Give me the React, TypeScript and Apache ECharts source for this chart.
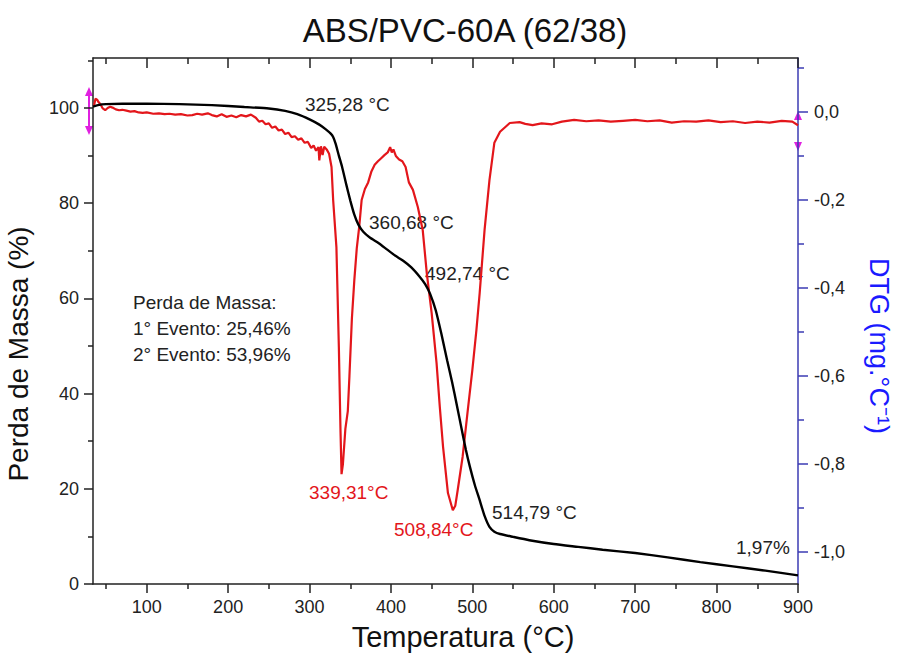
import React, { useEffect, useRef } from "react";
import * as echarts from "echarts";

// ---- data ----
const title = "ABS/PVC-60A (62/38)";
const xTicks = [100, 200, 300, 400, 500, 600, 700, 800, 900];
const xMinorTicks = [50, 150, 250, 350, 450, 550, 650, 750, 850];
const massTicks = [0, 20, 40, 60, 80, 100];
const massMinorTicks = [10, 30, 50, 70, 90, 110];
const dtgTicks = [-1.0, -0.8, -0.6, -0.4, -0.2, 0.0];
const dtgMinorTicks = [-0.9, -0.7, -0.5, -0.3, -0.1, 0.1];

// TGA mass (%) vs temperature (°C)
const tgaTemp = [34, 40, 50, 70, 100, 140, 180, 220, 250, 270, 285, 300, 312, 320, 326, 329, 332, 336, 340, 345, 350, 355, 360, 366, 374, 385, 395, 405, 415, 425, 435, 442, 448, 455, 462, 469, 475, 481, 487, 492, 497, 503, 509, 515, 521, 527, 534, 550, 570, 600, 630, 660, 700, 740, 780, 820, 860, 900];
const tgaMass = [100.3, 100.6, 100.8, 100.9, 100.9, 100.8, 100.6, 100.2, 99.9, 99.4, 98.7, 97.6, 96.5, 95.5, 94.6, 93.9, 92.5, 90.0, 87.6, 84.0, 80.6, 77.6, 75.5, 74.0, 72.8, 71.6, 70.3, 69.0, 67.9, 66.5, 64.6, 63.0, 61.0, 57.5, 52.5, 47.0, 42.5, 37.5, 32.4, 28.2, 24.6, 20.8, 17.6, 14.3, 12.0, 11.0, 10.5, 9.9, 9.2, 8.4, 7.8, 7.2, 6.5, 5.6, 4.6, 3.7, 2.8, 1.8];

// DTG (mg/°C) vs temperature (°C)
const dtgTemp = [35, 37, 39, 41, 43, 46, 49, 52, 55, 58, 62, 66, 70, 75, 80, 85, 90, 95, 100, 108, 115, 122, 128, 135, 142, 150, 156, 162, 168, 175, 180, 186, 192, 198, 204, 210, 216, 222, 228, 234, 238, 242, 246, 250, 254, 258, 262, 266, 270, 274, 278, 282, 286, 290, 294, 298, 302, 305, 308, 311, 312, 314, 316, 318, 321, 324, 327, 329, 333, 336, 338, 339.3, 341, 344, 347, 349, 352, 355, 358, 361, 364, 368, 372, 376, 380, 384, 388, 392, 396, 399, 401, 403, 406, 410, 414, 418, 422, 427, 433, 439, 444, 450, 456, 460, 464, 470, 476, 479, 482, 488, 494, 500, 505, 509, 515, 521, 527, 534, 546, 558, 565, 574, 585, 598, 610, 625, 640, 655, 670, 685, 700, 715, 730, 745, 760, 775, 790, 805, 820, 835, 850, 865, 880, 893, 900];
const dtgValue = [0.012, 0.03, 0.028, 0.022, 0.018, 0.008, 0.004, 0.009, 0.012, 0.010, 0.006, 0.004, 0.005, 0.003, 0.001, 0.002, -0.001, -0.002, -0.001, -0.004, -0.003, -0.005, -0.004, -0.006, -0.005, -0.008, -0.007, -0.004, -0.006, -0.003, -0.007, -0.010, -0.005, -0.011, -0.008, -0.012, -0.007, -0.010, -0.006, -0.013, -0.022, -0.020, -0.028, -0.026, -0.036, -0.033, -0.042, -0.040, -0.050, -0.047, -0.057, -0.055, -0.063, -0.060, -0.070, -0.068, -0.082, -0.076, -0.088, -0.080, -0.110, -0.078, -0.098, -0.079, -0.085, -0.095, -0.125, -0.20, -0.307, -0.534, -0.723, -0.823, -0.80, -0.72, -0.68, -0.60, -0.47, -0.382, -0.31, -0.261, -0.20, -0.175, -0.160, -0.135, -0.120, -0.112, -0.105, -0.098, -0.092, -0.080, -0.092, -0.085, -0.100, -0.108, -0.112, -0.125, -0.160, -0.177, -0.216, -0.268, -0.366, -0.457, -0.570, -0.670, -0.761, -0.866, -0.905, -0.895, -0.859, -0.784, -0.684, -0.586, -0.495, -0.411, -0.268, -0.155, -0.070, -0.045, -0.025, -0.023, -0.027, -0.030, -0.026, -0.028, -0.022, -0.018, -0.021, -0.019, -0.022, -0.020, -0.018, -0.021, -0.019, -0.024, -0.021, -0.022, -0.019, -0.023, -0.021, -0.025, -0.022, -0.024, -0.020, -0.022, -0.030];

const FONT = "'Liberation Sans', Arial, sans-serif";
const AXIS_COLOR = "#222";
const BLUE_AXIS = "#3b3bb3";
const RED = "#e3161b";

function fmtComma(v: number) {
  const s = (Math.round(v * 10) / 10).toFixed(1).replace(".", ",");
  return s === "-0,0" ? "0,0" : s;
}

export default function App() {
  const ref = useRef<HTMLDivElement>(null);
  useEffect(() => {
    document.body.style.margin = "0";
    const chart = echarts.init(ref.current!, null, { renderer: "svg" });
    const xMin = 34;
    const xMax = 900;
    const tickStyle = { color: AXIS_COLOR, width: 1.5 };
    const baseX = {
      type: "value" as const,
      min: xMin,
      max: xMax,
      splitLine: { show: false },
    };
    const massMin = 0;
    const massMax = 110.5;
    const dtgMin = -1.0727;
    const dtgMax = 0.1227;
    const option: any = {
      animation: false,
      backgroundColor: "#fff",
      grid: { left: 93, right: 103, top: 58, bottom: 75 },
      xAxis: [
        {
          ...baseX,
          position: "bottom",
          axisLine: { show: true, onZero: false, lineStyle: tickStyle },
          axisTick: { show: true, length: 9, customValues: xTicks, lineStyle: tickStyle },
          axisLabel: { customValues: xTicks, margin: 14, fontSize: 18, color: "#222", fontFamily: FONT },
        },
        {
          ...baseX,
          position: "bottom",
          axisLine: { show: false, onZero: false },
          axisTick: { show: true, length: 5, customValues: xMinorTicks, lineStyle: tickStyle },
          axisLabel: { show: false },
        },
        {
          ...baseX,
          position: "top",
          axisLine: { show: true, onZero: false, lineStyle: tickStyle },
          axisTick: { show: true, inside: true, length: 10, customValues: xTicks, lineStyle: tickStyle },
          axisLabel: { show: false },
        },
        {
          ...baseX,
          position: "top",
          axisLine: { show: false, onZero: false },
          axisTick: { show: true, inside: true, length: 6, customValues: xMinorTicks, lineStyle: tickStyle },
          axisLabel: { show: false },
        },
      ],
      yAxis: [
        {
          type: "value",
          position: "left",
          min: massMin,
          max: massMax,
          splitLine: { show: false },
          axisLine: { show: true, onZero: false, lineStyle: tickStyle },
          axisTick: { show: true, length: 9, customValues: massTicks, lineStyle: tickStyle },
          axisLabel: { customValues: massTicks, margin: 14, fontSize: 18, color: "#222", fontFamily: FONT },
        },
        {
          type: "value",
          position: "right",
          min: dtgMin,
          max: dtgMax,
          splitLine: { show: false },
          axisLine: { show: true, onZero: false, lineStyle: { color: BLUE_AXIS, width: 1.5 } },
          axisTick: { show: true, length: 10, customValues: dtgTicks, lineStyle: { color: BLUE_AXIS, width: 1.5 } },
          axisLabel: { customValues: dtgTicks, margin: 16, fontSize: 18, color: "#222", fontFamily: FONT, formatter: (v: number) => fmtComma(v) },
        },
        {
          type: "value",
          position: "right",
          min: dtgMin,
          max: dtgMax,
          splitLine: { show: false },
          axisLine: { show: false, onZero: false },
          axisTick: { show: true, length: 6, customValues: dtgMinorTicks, lineStyle: { color: BLUE_AXIS, width: 1.5 } },
          axisLabel: { show: false },
        },
        {
          type: "value",
          position: "left",
          min: massMin,
          max: massMax,
          splitLine: { show: false },
          axisLine: { show: false, onZero: false },
          axisTick: { show: true, length: 5, customValues: massMinorTicks, lineStyle: tickStyle },
          axisLabel: { show: false },
        },
      ],
      series: [
        {
          type: "line",
          name: "DTG",
          xAxisIndex: 0,
          yAxisIndex: 1,
          showSymbol: false,
          data: dtgTemp.map((t, i) => [t, dtgValue[i]]),
          lineStyle: { color: RED, width: 2.2 },
          z: 2,
        },
        {
          type: "line",
          name: "TGA",
          xAxisIndex: 0,
          yAxisIndex: 0,
          showSymbol: false,
          smooth: 0.2,
          data: tgaTemp.map((t, i) => [t, tgaMass[i]]),
          lineStyle: { color: "#000", width: 2.4 },
          z: 3,
        },
      ],
      graphic: [
        { type: "text", x: 465, y: 30, style: { text: title, fontSize: 33, fontFamily: FONT, fill: "#111", textAlign: "center", textVerticalAlign: "middle" } },
        { type: "text", x: 463, y: 637, style: { text: "Temperatura (°C)", fontSize: 29, fontFamily: FONT, fill: "#111", textAlign: "center", textVerticalAlign: "middle" } },
        { type: "text", x: 18, y: 354, rotation: Math.PI / 2, style: { text: "Perda de Massa (%)", fontSize: 28, fontFamily: FONT, fill: "#111", textAlign: "center", textVerticalAlign: "middle" } },
        { type: "text", x: 879, y: 346, rotation: -Math.PI / 2, style: { text: "DTG (mg.°C⁻¹)", fontSize: 27, fontFamily: FONT, fill: "#1a1aff", textAlign: "center", textVerticalAlign: "middle" } },
        { type: "text", x: 133, y: 302, style: { text: "Perda de Massa:", fontSize: 19, fontFamily: FONT, fill: "#222", textAlign: "left", textVerticalAlign: "middle" } },
        { type: "text", x: 133, y: 328, style: { text: "1° Evento: 25,46%", fontSize: 19, fontFamily: FONT, fill: "#222", textAlign: "left", textVerticalAlign: "middle" } },
        { type: "text", x: 133, y: 354, style: { text: "2° Evento: 53,96%", fontSize: 19, fontFamily: FONT, fill: "#222", textAlign: "left", textVerticalAlign: "middle" } },
        { type: "text", x: 305, y: 104, style: { text: "325,28 °C", fontSize: 19, fontFamily: FONT, fill: "#222", textAlign: "left", textVerticalAlign: "middle" } },
        { type: "text", x: 369, y: 222, style: { text: "360,68 °C", fontSize: 19, fontFamily: FONT, fill: "#222", textAlign: "left", textVerticalAlign: "middle" } },
        { type: "text", x: 425, y: 273, style: { text: "492,74 °C", fontSize: 19, fontFamily: FONT, fill: "#222", textAlign: "left", textVerticalAlign: "middle" } },
        { type: "text", x: 492, y: 512, style: { text: "514,79 °C", fontSize: 19, fontFamily: FONT, fill: "#222", textAlign: "left", textVerticalAlign: "middle" } },
        { type: "text", x: 736, y: 547, style: { text: "1,97%", fontSize: 19, fontFamily: FONT, fill: "#222", textAlign: "left", textVerticalAlign: "middle" } },
        { type: "text", x: 309, y: 492, style: { text: "339,31°C", fontSize: 19, fontFamily: FONT, fill: RED, textAlign: "left", textVerticalAlign: "middle" } },
        { type: "text", x: 394, y: 529, style: { text: "508,84°C", fontSize: 19, fontFamily: FONT, fill: RED, textAlign: "left", textVerticalAlign: "middle" } },
        // magenta data-reader markers
        { type: "line", shape: { x1: 89, y1: 94, x2: 89, y2: 128 }, style: { stroke: "#e020e0", lineWidth: 2 } },
        { type: "polygon", shape: { points: [[89, 87], [85, 96], [93, 96]] }, style: { fill: "#e020e0" } },
        { type: "polygon", shape: { points: [[89, 135], [85, 126], [93, 126]] }, style: { fill: "#e020e0" } },
        { type: "polygon", shape: { points: [[798, 111], [794, 120], [802, 120]] }, style: { fill: "#e020e0" } },
        { type: "polygon", shape: { points: [[798, 151], [794, 142], [802, 142]] }, style: { fill: "#e020e0" } },
      ],
    };
    chart.setOption(option);
    return () => chart.dispose();
  }, []);
  return <div ref={ref} style={{ width: 901, height: 659 }} />;
}
